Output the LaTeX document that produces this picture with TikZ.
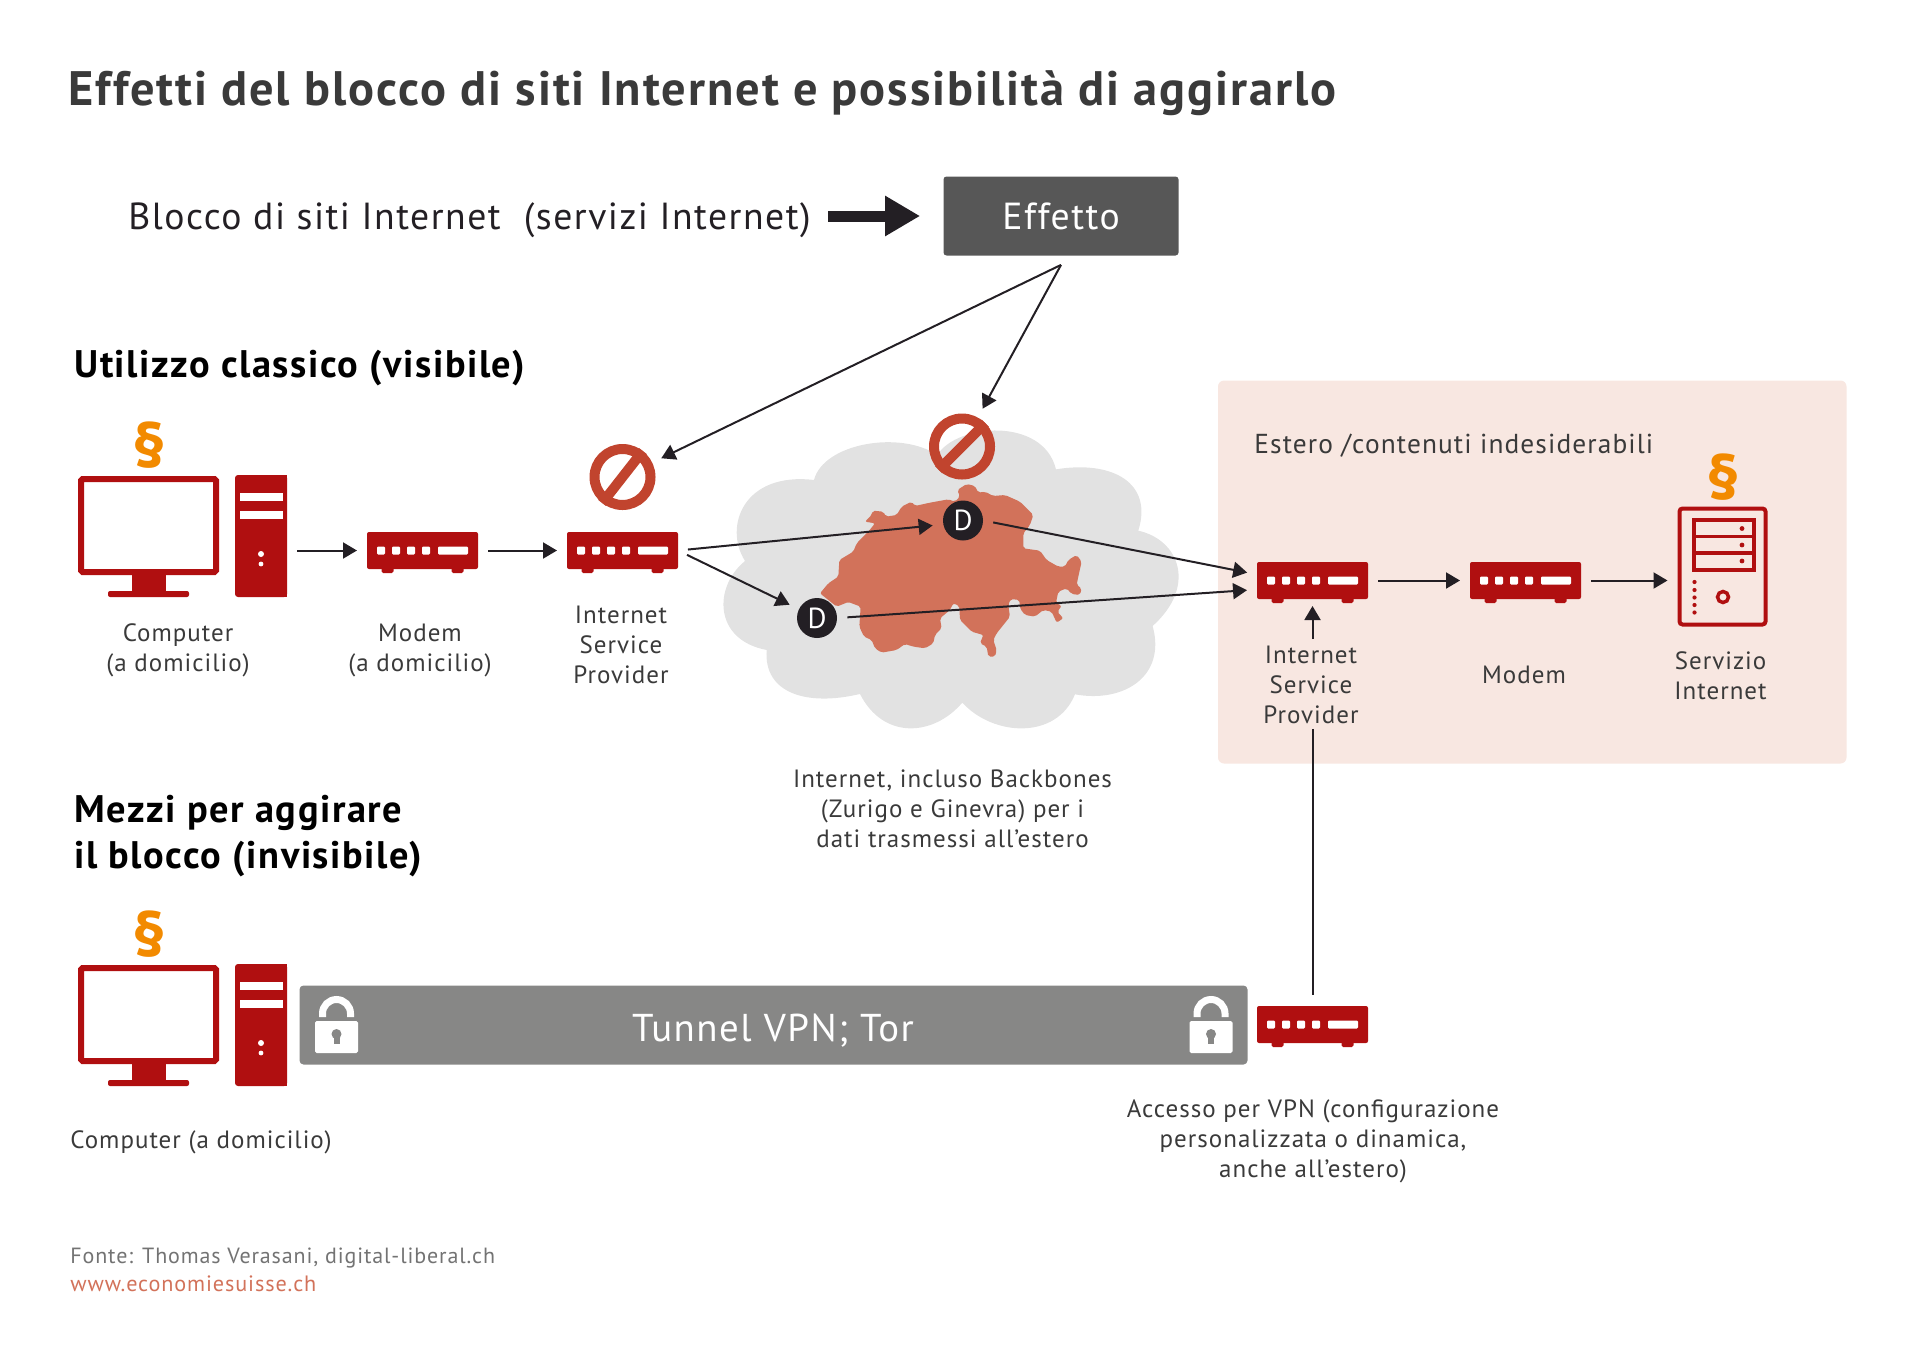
\documentclass[tikz,border=0pt]{standalone}
\usepackage{fontspec}
\setmainfont[LetterSpace=4]{PT Sans}
\usetikzlibrary{positioning,calc,arrows.meta}
\definecolor{iconred}{HTML}{B00F10}
\definecolor{lawgold}{HTML}{F28A00}
\definecolor{banred}{HTML}{C1442E}
\definecolor{swissred}{HTML}{D2725A}
\definecolor{cloudgray}{HTML}{E2E2E2}
\definecolor{pinkbg}{HTML}{F8E7E1}
\definecolor{tunnelgray}{HTML}{878786}
\definecolor{effectgray}{HTML}{575757}
\definecolor{inkdark}{HTML}{3A3A3A}
\definecolor{arrowink}{HTML}{231F24}
\tikzset{
  bodytxt/.style={font=\fontsize{12.5}{15}\selectfont,text=inkdark,align=center,inner sep=0pt},
  headtxt/.style={font=\fontsize{19.2}{22.6}\selectfont\bfseries,text=black,align=left,anchor=west,inner sep=0pt},
  largetxt/.style={font=\fontsize{18.85}{22}\selectfont},
  flowarr/.style={draw=arrowink,line width=1pt,-{Triangle[length=7pt,width=8pt]},shorten <=5pt,shorten >=5pt},
  modembox/.style={fill=iconred,rounded corners=1pt,minimum width=55.5pt,minimum height=18.5pt,inner sep=0pt,outer sep=0pt},
  lawsign/.style={font=\fontsize{32}{32}\selectfont\bfseries,text=lawgold,inner sep=0pt},
  bansign/.style={circle,draw=banred,line width=5pt,minimum size=28pt,inner sep=0pt},
  dnode/.style={circle,fill=arrowink,text=white,minimum size=20pt,inner sep=0pt,font=\fontsize{14.5}{15}\selectfont},
  towerbox/.style={fill=iconred,rounded corners=1.5pt,minimum width=26pt,minimum height=61pt,inner sep=0pt,outer sep=0pt},
  screenbox/.style={draw=iconred,line width=3pt,rounded corners=.8pt,minimum width=67.5pt,minimum height=46.5pt,inner sep=0pt}
}
% modem icon: name, centre x, centre y
\newcommand{\modemicon}[3]{
  \fill[iconred,rounded corners=.8pt] (#2-41,#3+14) rectangle (#2-29,#3+22.5);
  \fill[iconred,rounded corners=.8pt] (#2+29,#3+14) rectangle (#2+41,#3+22.5);
  \node[modembox] (#1) at (#2,#3) {};
  \foreach \dx in {-45.5,-30.5,-15.5,-.5}
    \fill[white,rounded corners=.6pt] (#2+\dx,#3-4) rectangle (#2+\dx+8,#3+4);
  \fill[white,rounded corners=.6pt] (#2+15.5,#3-4) rectangle (#2+45.5,#3+4);
}
% computer icon: suffix, y offset
\newcommand{\pcicon}[2]{
  \fill[iconred] (132,575+#2) rectangle (166,592+#2);
  \fill[iconred,rounded corners=1pt] (108,591+#2) rectangle (189,597+#2);
  \node[screenbox] (screen#1) at (148.5,525.5+#2) {};
  \node[towerbox] (tower#1) at (261,536+#2) {};
  \fill[iconred] (262,475+#2) rectangle (287,597+#2);
  \fill[white] (240,493+#2) rectangle (283,501+#2);
  \fill[white] (240,511+#2) rectangle (283,519+#2);
  \fill[white] (261,554+#2) circle (3);
  \fill[white] (261,564+#2) circle (2.4);
  \node[lawsign] (law#1) at (149,445.5+#2) {§};
}
% padlock icon: left x of the body
\newcommand{\lockicon}[1]{
  \fill[white,rounded corners=.8pt] (#1,1021) rectangle (#1+43,1053);
  \draw[white,line width=3.5pt] (#1+7.5,1017) -- (#1+7.5,1013.5) arc (180:360:14) -- (#1+35.5,1017);
  \fill[tunnelgray] (#1+21.5,1034) circle (5);
  \fill[tunnelgray] (#1+18.5,1034) rectangle (#1+24.5,1044);
}
\begin{document}
\begin{tikzpicture}[x=.5pt,y=-.5pt]
\useasboundingbox (0,0) rectangle (1920,1360);
\node[anchor=west,inner sep=0pt,font=\fontsize{24.2}{28}\selectfont\bfseries,text=inkdark] (title) at (68,93.5) {Effetti del blocco di siti Internet e possibilità di aggirarlo};
\node[largetxt,anchor=west,inner sep=0pt,text=arrowink] (blocktxt) at (128,220.5) {Blocco di siti Internet\ \ (servizi Internet)};
\node[fill=effectgray,rounded corners=1.5pt,minimum width=117.5pt,minimum height=39.5pt,inner sep=0pt,text=white,largetxt] (effetto) at (1061,216) {Effetto};
\coordinate (blockend) at (828,216);
\draw[arrowink,line width=5.5pt,shorten >=11.5pt,-{Triangle[length=17.5pt,width=19pt]}] (blockend) -- (effetto.west);
\node[headtxt] (classichead) at (74,368.5) {Utilizzo classico (visibile)};
\node[headtxt] (mezzihead) at (74,836) {Mezzi per aggirare\\il blocco (invisibile)};

% cloud and map
\begin{scope}[shift={(700,400)},scale=.3333]
\fill[cloudgray] (135,483) .. controls (70,380) and (130,215) .. (342,240)
  .. controls (370,130) and (600,90) .. (712,165)
  .. controls (770,70) and (1030,50) .. (1068,208)
  .. controls (1240,180) and (1360,250) .. (1315,392)
  .. controls (1440,420) and (1490,560) .. (1358,678)
  .. controls (1400,830) and (1270,910) .. (1125,883)
  .. controls (1070,1020) and (880,1010) .. (787,908)
  .. controls (700,1010) and (550,1020) .. (480,882)
  .. controls (320,920) and (190,880) .. (200,750)
  .. controls (40,720) and (40,560) .. (135,483) -- cycle;
\fill[swissred,rounded corners=1pt] (360,580) -- (385,550) -- (415,530) -- (418,480) -- (460,455) -- (470,430) -- (505,395) -- (525,370) -- (495,365) -- (515,345) -- (518,332) -- (550,335) -- (558,350) -- (590,345) -- (605,320) -- (635,305) -- (645,318) -- (690,308) -- (745,298) -- (765,305) -- (780,290) -- (772,270) -- (800,252) -- (825,258) -- (835,278) -- (855,275) -- (880,288) -- (915,285) -- (960,305) -- (1000,345) -- (990,375) -- (970,400) -- (970,445) -- (1020,452) -- (1040,480) -- (1075,500) -- (1095,500) -- (1105,480) -- (1130,465) -- (1145,485) -- (1135,530) -- (1130,555) -- (1145,565) -- (1140,585) -- (1115,582) -- (1100,565) -- (1075,575) -- (1068,608) -- (1085,618) -- (1072,635) -- (1090,655) -- (1070,668) -- (1055,635) -- (1030,630) -- (1005,650) -- (975,645) -- (960,625) -- (958,600) -- (932,597) -- (925,615) -- (930,650) -- (890,700) -- (880,720) -- (890,750) -- (885,770) -- (865,770) -- (860,740) -- (840,730) -- (850,705) -- (815,695) -- (780,660) -- (778,618) -- (760,610) -- (750,630) -- (720,655) -- (725,685) -- (705,705) -- (700,730) -- (675,745) -- (640,740) -- (615,732) -- (590,750) -- (545,758) -- (525,745) -- (515,720) -- (492,710) -- (478,680) -- (482,620) -- (445,606) -- (410,620) -- (385,600) -- cycle;
\end{scope}
\fill[pinkbg,rounded corners=3pt] (1218,380.5) rectangle (1846.5,763.5);

% icons
\pcicon{A}{0}
\pcicon{B}{489}
\modemicon{modemA}{422.5}{550.5}
\modemicon{modemB}{622.5}{550.5}
\modemicon{modemC}{1312.5}{580.5}
\modemicon{modemD}{1525.5}{580.5}
\modemicon{modemE}{1312.5}{1024.5}

\node[draw=iconred,line width=2pt,rounded corners=1.5pt,minimum width=43pt,minimum height=58pt,inner sep=0pt] (server) at (1722.5,566.5) {};
\draw[iconred,line width=1.75pt] (1694,520) rectangle (1754,570);
\draw[iconred,line width=1.75pt] (1694,536.5) -- (1754,536.5);
\draw[iconred,line width=1.75pt] (1694,553) -- (1754,553);
\foreach \yy in {528.5,545,561}
  \fill[iconred] (1742,\yy) circle (2.4);
\foreach \yy in {582,590,597.5,605,612.5}
  \fill[iconred] (1694.5,\yy) circle (2.1);
\draw[iconred,line width=1.75pt] (1723,597) circle (5.5);
\node[lawsign] (lawS) at (1723,477.5) {§};

\node[bansign] (banA) at (622.5,477) {};
\draw[banred,line width=5pt] (banA.232) -- (banA.52);
\node[bansign] (banB) at (962,446.5) {};
\draw[banred,line width=5pt] (banB.225) -- (banB.45);
\node[dnode] (dTop) at (963,520.5) {D};
\node[dnode] (dBot) at (817,618) {D};

% tunnel
\node[fill=tunnelgray,rounded corners=2pt,minimum width=474pt,minimum height=39.5pt,inner sep=0pt] (tunnel) at (773.5,1025) {};
\node[text=white,inner sep=0pt,font=\fontsize{19.4}{22}\selectfont] (tunneltxt) at (773,1031) {Tunnel VPN; Tor};
\lockicon{315}
\lockicon{1189.5}

% labels
\node[bodytxt] (pcAtxt) at (178,650.5) {Computer\\(a domicilio)};
\node[bodytxt] (modemAtxt) at (420,650.5) {Modem\\(a domicilio)};
\node[bodytxt] (modemBtxt) at (621,645) {Internet\\Service\\Provider};
\node[bodytxt] (cloudtxt) at (952.5,808.5) {Internet, incluso Backbones\\(Zurigo e Ginevra) per i\\dati trasmessi all’estero};
\node[bodytxt,anchor=west,font=\fontsize{13.7}{15}\selectfont] (estero) at (1254,445.5) {Estero /contenuti indesiderabili};
\node[bodytxt] (modemCtxt) at (1311,684.5) {Internet\\Service\\Provider};
\node[bodytxt] (modemDtxt) at (1524,675) {Modem};
\node[bodytxt] (servertxt) at (1720.5,675.5) {Servizio\\Internet};
\node[bodytxt,anchor=west] (pcBtxt) at (70,1142) {Computer (a domicilio)};
\node[bodytxt] (modemEtxt) at (1313,1141.5) {Accesso per VPN (configurazione\\personalizzata o dinamica,\\anche all’estero)};
\node[anchor=west,inner sep=0pt,font=\fontsize{11}{14}\selectfont,text=gray!90!black] (source) at (70,1258.5) {Fonte: Thomas Verasani, digital-liberal.ch};
\node[anchor=west,inner sep=0pt,font=\fontsize{11.1}{14}\selectfont,text=swissred] (website) at (70,1284) {www.economiesuisse.ch};

% connectors
\coordinate (effapex) at ([yshift=-4.5pt]effetto.south);
\draw[flowarr,shorten <=0pt] (effapex) -- (banA);
\draw[flowarr,shorten <=0pt] (effapex) -- (banB);
\draw[flowarr] (towerA.east |- modemA.west) -- (modemA.west);
\draw[flowarr] (modemA.east) -- (modemB.west);
\draw[flowarr] (modemB.east) -- ([yshift=-2pt]dTop.west);
\draw[flowarr] (modemB.east) -- (dBot);
\draw[flowarr] (dTop.east) -- ([yshift=3pt]modemC.west);
\draw[flowarr] (dBot.east) -- ([yshift=-4.5pt]modemC.west);
\draw[flowarr] (modemC.east) -- (modemD.west);
\draw[flowarr] (modemD.east) -- (modemD.east -| server.west);
\draw[flowarr,shorten <=3pt,shorten >=3.5pt] (modemCtxt.north -| modemC.south) -- (modemC.south);
\draw[arrowink,line width=1pt,shorten <=2.5pt,shorten >=5.5pt] (modemCtxt.south -| modemC.south) -- (modemE.north);
\end{tikzpicture}
\end{document}
